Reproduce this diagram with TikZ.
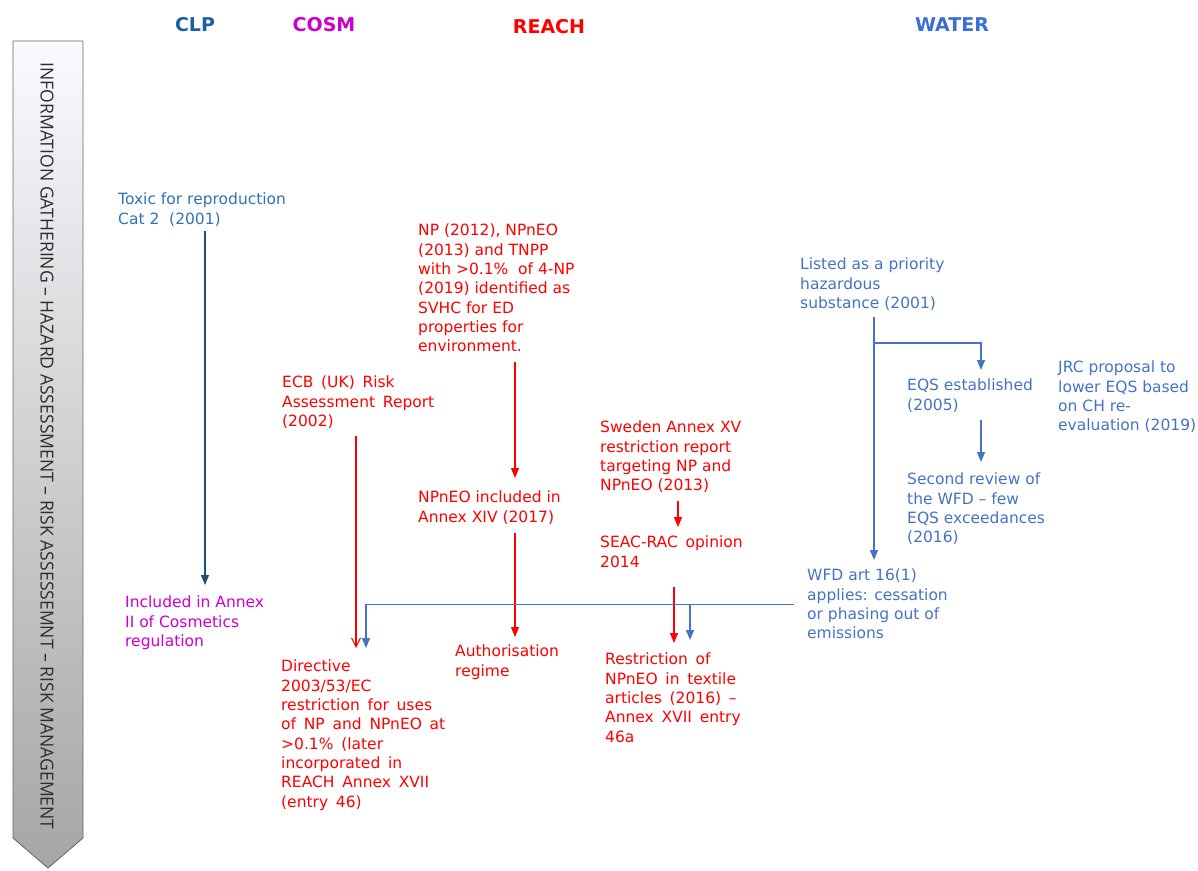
\documentclass[tikz,border=0pt]{standalone}
\usepackage{fontspec}
\setmainfont{DejaVu Sans}
\newfontfamily\barfont{Open Sans}
\usepackage{xcolor}
\usepackage{graphicx}
\usetikzlibrary{arrows.meta}
\definecolor{clpblue}{RGB}{46,116,181}
\definecolor{clpdark}{RGB}{31,78,121}
\definecolor{clphead}{RGB}{31,95,160}
\definecolor{cosmpink}{RGB}{204,0,204}
\definecolor{reachred}{RGB}{255,0,0}
\definecolor{waterblue}{RGB}{68,114,196}
\definecolor{waterhead}{RGB}{58,111,216}
\definecolor{bartext}{RGB}{45,45,45}
\newcommand{\evtfont}{\fontsize{15.5}{19.3}\selectfont}
\newcommand{\widefont}{\evtfont\spaceskip 0.5em\relax}
\tikzset{
  evt/.style={anchor=north west, align=left, inner sep=0pt, font=\evtfont},
  wide/.style={font=\widefont},
  head/.style={inner sep=0pt, font=\fontsize{19}{22}\selectfont\bfseries},
  tri/.style={-{Triangle[length=10pt,width=8pt]}, line width=1.1pt},
  vee/.style={-{Straight Barb[length=9pt,width=9pt]}, line width=1.1pt},
  wline/.style={line width=1.1pt, waterblue},
}

\begin{document}
\begin{tikzpicture}[x=1pt,y=-1pt]
        \useasboundingbox (0,0) rectangle (1198,870);
        % process bar on the left
        \shade[top color=white!95!blue!40!white, bottom color=black!35] (13,41) -- (83,41) -- (83,838) -- (48,868) -- (13,838) -- cycle;
        \draw[black!60, line width=0.8pt] (13,41) -- (83,41) -- (83,838) -- (48,868) -- (13,838) -- cycle;
        \node[rotate=-90, inner sep=0pt, text=bartext] (bar) at (47,446)
            {\resizebox{767pt}{13pt}{\barfont INFORMATION GATHERING – HAZARD ASSESSMENT – RISK ASSESSEMNT – RISK MANAGEMENT}};
        % column headers
        \foreach \x/\y/\t/\c in {195/25/CLP/clphead, 324/25/COSM/cosmpink, 549/27/REACH/reachred, 952/25/WATER/waterhead}
            {\node[head, text=\c] (h\t) at (\x,\y) {\t};}
        % CLP and COSM
        \node[evt, text=clpblue] (toxic) at (118,193) {Toxic for reproduction\\Cat 2 \ (2001)};
        \node[evt, text=cosmpink] (cosmreg) at (125,596) {Included in Annex\\II of Cosmetics\\regulation};
        % REACH
        \node[evt, wide, text=reachred] (ecb) at (282,376) {ECB (UK) Risk\\Assessment Report\\(2002)};
        \node[evt, wide, text=reachred] (directive) at (281,660) {Directive\\2003/53/EC\\restriction for uses\\of NP and NPnEO at\\>0.1\% (later\\incorporated in\\REACH Annex XVII\\(entry 46)};
        \node[evt, text=reachred] (svhc) at (418,224) {NP (2012), NPnEO\\(2013) and TNPP\\with >0.1\% \ of 4-NP\\(2019) identified as\\SVHC for ED\\properties for\\environment.};
        \node[evt, text=reachred] (annexxiv) at (418,491) {NPnEO included in\\Annex XIV (2017)};
        \node[evt, text=reachred] (authreg) at (455,645) {Authorisation\\regime};
        \node[evt, text=reachred] (sweden) at (600,421) {Sweden Annex XV\\restriction report\\targeting NP and\\NPnEO (2013)};
        \node[evt, wide, text=reachred] (seac) at (600,536) {SEAC-RAC opinion\\2014};
        \node[evt, wide, text=reachred] (textile) at (605,653) {Restriction of\\NPnEO in textile\\articles (2016) –\\Annex XVII entry\\46a};
        % WATER
        \node[evt, text=waterblue] (listed) at (800,258) {Listed as a priority\\hazardous\\substance (2001)};
        \node[evt, text=waterblue] (eqs) at (907,379) {EQS established\\(2005)};
        \node[evt, text=waterblue] (review) at (907,473) {Second review of\\the WFD – few\\EQS exceedances\\(2016)};
        \node[evt, text=waterblue] (jrc) at (1058,361) {JRC proposal to\\lower EQS based\\on CH re-\\evaluation (2019)};
        \node[evt, text=waterblue] (wfd) at (807,569) {WFD art 16(1)\\applies: cessation\\or phasing out of\\emissions};
        % arrow columns
        \coordinate (clpx) at (205,0);
        \coordinate (ecbx) at (356,0);
        \coordinate (dirx) at (366,0);
        \coordinate (svhcx) at (515,0);
        \coordinate (swex) at (678,0);
        \coordinate (seacx) at (674,0);
        \coordinate (textx) at (690,0);
        \coordinate (listx) at (874,0);
        \coordinate (eqsx) at (981,0);
        \coordinate (split) at (874,343);
        % connectors
        \draw[tri, clpdark, shorten <=4pt, shorten >=11pt] (toxic.south -| clpx) -- (cosmreg.north -| clpx);
        \draw[vee, reachred, shorten <=7pt, shorten >=12pt] (ecb.south -| ecbx) -- (directive.north -| ecbx);
        \draw[tri, reachred, shorten <=10pt, shorten >=13pt] (svhc.south -| svhcx) -- (annexxiv.north -| svhcx);
        \draw[tri, reachred, shorten <=8pt, shorten >=8pt] (annexxiv.south -| svhcx) -- (authreg.north -| svhcx);
        \draw[tri, reachred, shorten <=8pt, shorten >=9pt] (sweden.south -| swex) -- (seac.north -| swex);
        \draw[tri, reachred, shorten <=19pt, shorten >=10pt] (seac.south -| seacx) -- (textile.north -| seacx);
        \draw[wline, tri, shorten <=6pt, shorten >=9pt] (listed.south -| listx) -- (wfd.north -| listx);
        \draw[wline, tri, shorten >=9pt] (split) -| (eqs.north -| eqsx);
        \draw[wline, tri, shorten <=7pt, shorten >=11pt] (eqs.south -| eqsx) -- (review.north -| eqsx);
        \draw[wline, tri] ([xshift=-13pt]wfd.west) -| ([yshift=12pt]directive.north -| dirx);
        \draw[wline, tri, shorten >=13pt] (wfd.west -| textx) -- (textile.north -| textx);
\end{tikzpicture}
\end{document}
